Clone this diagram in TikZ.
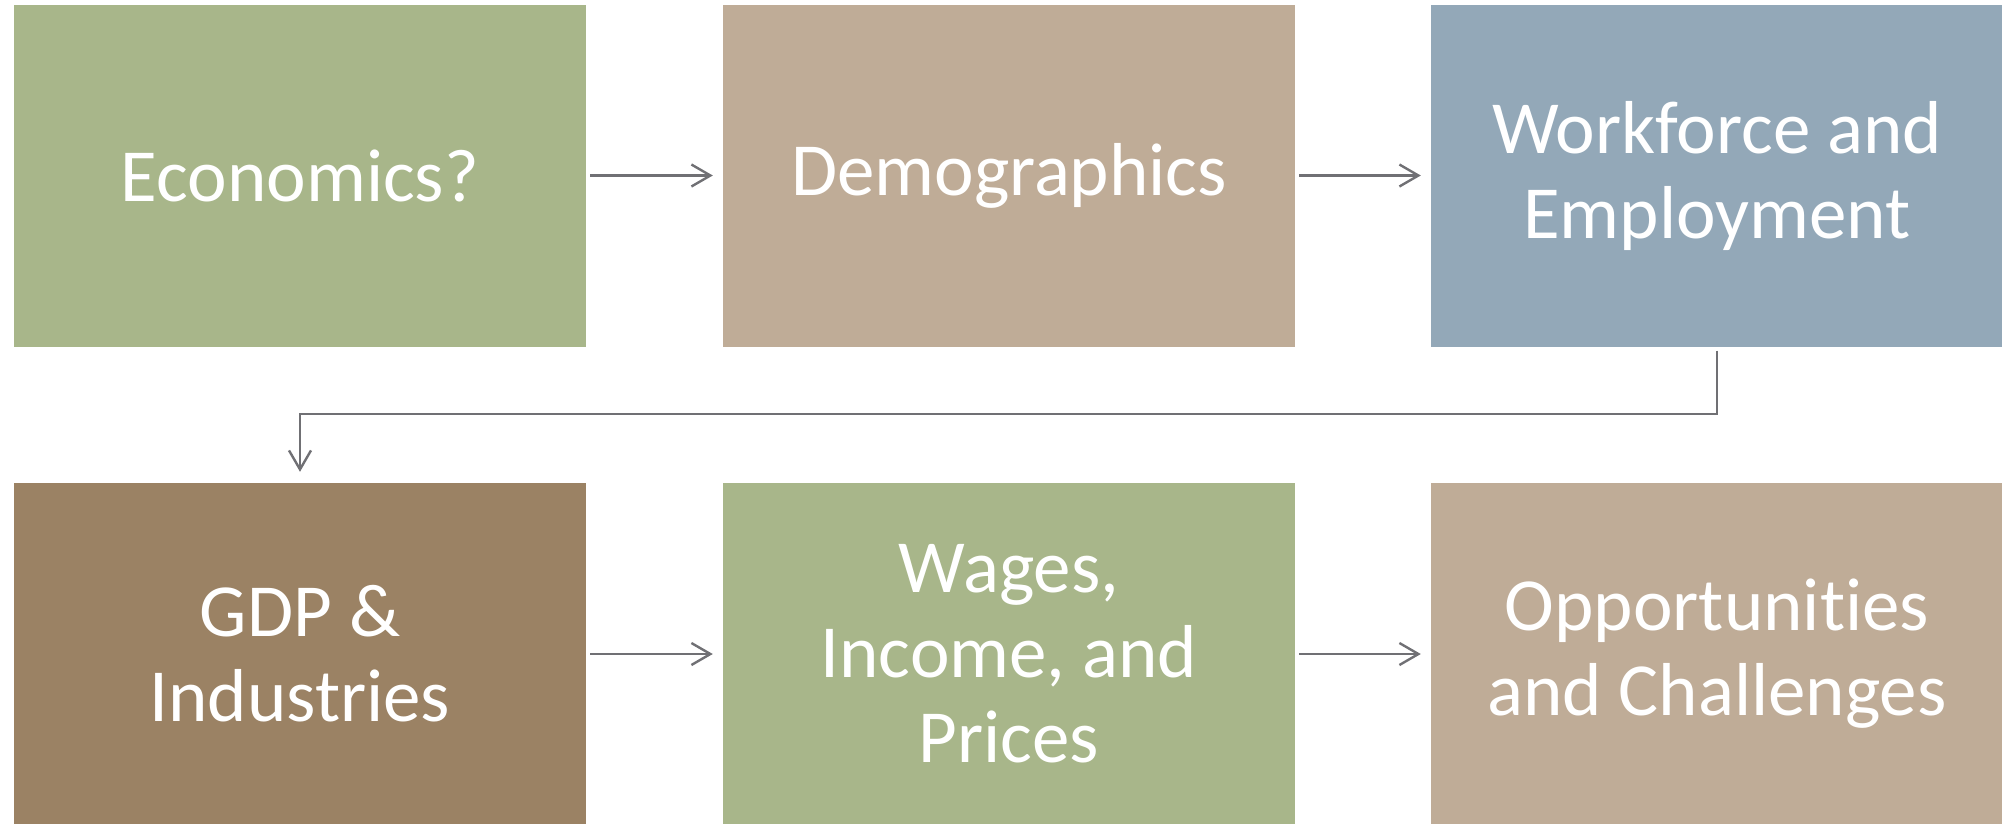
\documentclass[tikz,border=0pt]{standalone}
\usepackage{fontspec}
\setmainfont{Carlito}[Ligatures=NoCommon]
\usetikzlibrary{arrows.meta}
\definecolor{cgreen}{RGB}{168,182,138}
\definecolor{ctan}{RGB}{191,172,151}
\definecolor{cblue}{RGB}{147,168,184}
\definecolor{cbrown}{RGB}{155,130,100}
\definecolor{cline}{RGB}{112,112,116}
\begin{document}
\begin{tikzpicture}[x=1pt,y=-1pt,
  box/.style={minimum width=572pt,minimum height=342pt,inner sep=0pt,draw=none,
    text=white,align=center,font=\fontsize{75}{85}\selectfont},
  conn/.style={draw=cline,line width=2.4pt,-{Straight Barb[length=19pt,width=22pt,line width=2.4pt]}}]
\useasboundingbox (0,0) rectangle (2002,823);
\node[box,fill=cgreen] (b1) at (300,175.5) {Economics?};
\node[box,fill=ctan] (b2) at (1009,175.5) {Demographics};
\node[box,fill=cblue] (b3) at (1717,175.5) {Workforce and\\Employment};
\node[box,fill=cbrown] (b4) at (300,654) {GDP \&\\Industries};
\node[box,fill=cgreen] (b5) at (1009,654) {Wages,\\Income, and\\Prices};
\node[box,fill=ctan] (b6) at (1717,654) {Opportunities\\and Challenges};
\draw[conn] ([xshift=4pt]b1.east) -- ([xshift=-10pt]b2.west);
\draw[conn] ([xshift=4pt]b2.east) -- ([xshift=-10pt]b3.west);
\draw[conn] ([xshift=4pt]b4.east) -- ([xshift=-10pt]b5.west);
\draw[conn] ([xshift=4pt]b5.east) -- ([xshift=-10pt]b6.west);
\coordinate (m) at (300,414);
\draw[conn] ([yshift=-4pt]b3.south) |- (m) -- ([yshift=11pt]b4.north);
\end{tikzpicture}
\end{document}
